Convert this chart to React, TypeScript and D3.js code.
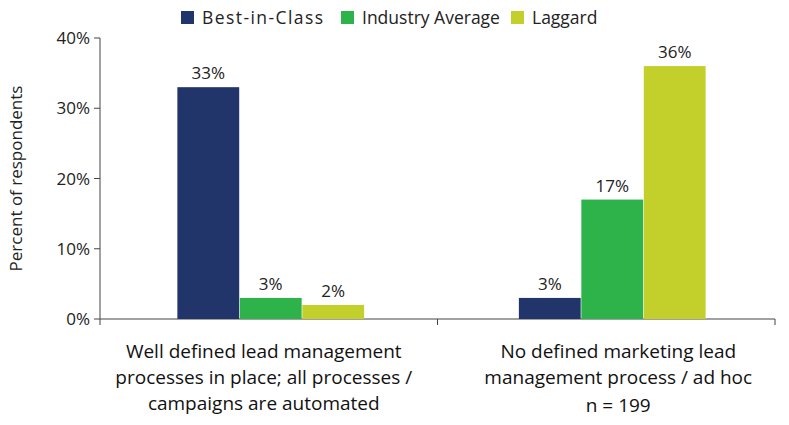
import * as d3 from "d3";

const categories = [
  ["Well defined lead management", "processes in place; all processes /", "campaigns are automated"],
  ["No defined marketing lead", "management process / ad hoc", "n = 199"],
];
const seriesNames = ["Best-in-Class", "Industry Average", "Laggard"];
const seriesColors = ["#22356b", "#2db34a", "#c3cf2a"];
const bestInClass = [33, 3];
const industryAverage = [3, 17];
const laggard = [2, 36];
const yTicks = [0, 10, 20, 30, 40];

const W = 789;
const H = 425;
const margin = { left: 100, right: 14, top: 38, bottom: 106 };
const font = "'Open Sans', 'Liberation Sans', sans-serif";

export default function App() {
  const series = [bestInClass, industryAverage, laggard];
  const x0 = d3
    .scaleBand<number>()
    .domain(categories.map((_, i) => i))
    .range([margin.left, W - margin.right]);
  const groupWidth = 188;
  const x1 = d3.scaleBand<number>().domain([0, 1, 2]).range([0, groupWidth]).padding(0.01);
  const y = d3.scaleLinear().domain([0, 40]).range([H - margin.bottom, margin.top]);
  const bottom = H - margin.bottom;

  const legendX = [188, 348, 518];

  return (
    <svg width={W} height={H} style={{ position: "absolute", left: 0, top: 0, background: "#fff" }} fontFamily={font}>
      {seriesNames.map((name, i) => (
        <g key={name}>
          <rect x={legendX[i] - 7} y={11} width={13} height={13} fill={seriesColors[i]} />
          <text x={legendX[i] + 14} y={24} fontSize={17.5} fill="#222" textLength={i === 0 ? 121 : undefined}>{name}</text>
        </g>
      ))}
      <line x1={margin.left} x2={margin.left} y1={margin.top} y2={bottom} stroke="#444" />
      <line x1={margin.left} x2={W - margin.right} y1={bottom} y2={bottom} stroke="#444" />
      {yTicks.map((t) => (
        <g key={t}>
          <line x1={margin.left - 6} x2={margin.left} y1={y(t)} y2={y(t)} stroke="#444" />
          <text x={margin.left - 10} y={y(t) + 6} textAnchor="end" fontSize={17} fill="#222">{t}%</text>
        </g>
      ))}
      {[0, 1, 2].map((i) => {
        const xx = margin.left + (i * (W - margin.right - margin.left)) / 2;
        return <line key={i} x1={xx} x2={xx} y1={bottom} y2={bottom + 6} stroke="#444" />;
      })}
      <text transform={`translate(22,${(margin.top + bottom) / 2}) rotate(-90)`} textAnchor="middle" fontSize={17} fill="#222">
        Percent of respondents
      </text>
      {categories.map((lines, ci) => {
        const cx = x0(ci)! + x0.bandwidth() / 2;
        const gx = cx - groupWidth / 2 + (ci === 0 ? 2 : 6);
        return (
          <g key={ci}>
            {series.map((s, si) => (
              <g key={si}>
                <rect x={gx + x1(si)!} y={y(s[ci])} width={x1.bandwidth()} height={bottom - y(s[ci])} fill={seriesColors[si]} />
                <text x={gx + x1(si)! + x1.bandwidth() / 2} y={y(s[ci]) - 8} textAnchor="middle" fontSize={17} fill="#222">
                  {s[ci]}%
                </text>
              </g>
            ))}
            {lines.map((l, li) => (
              <text key={li} x={cx + (ci === 0 ? -5 : 12)} y={358 + li * 26 + (ci === 1 && li === 2 ? 2 : 0)} textAnchor="middle" fontSize={19} fill="#111">
                {l}
              </text>
            ))}
          </g>
        );
      })}
    </svg>
  );
}
